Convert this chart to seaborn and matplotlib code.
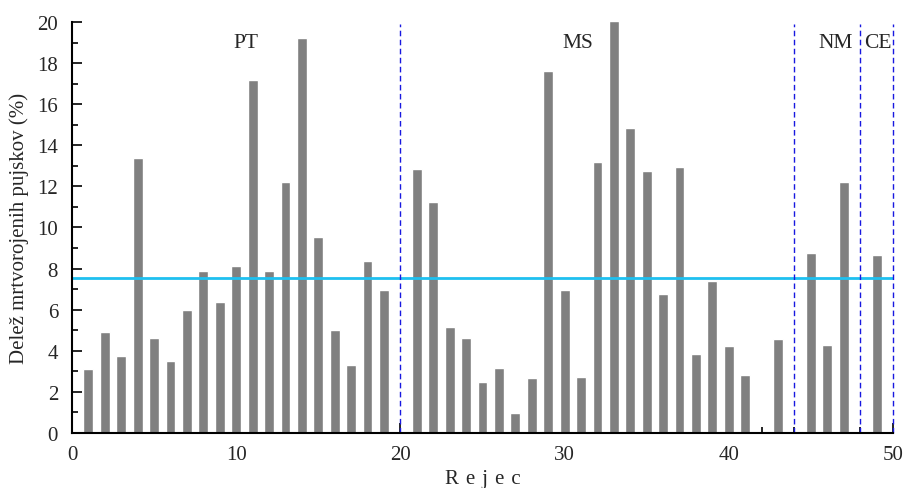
import matplotlib
matplotlib.use("Agg")
import matplotlib.pyplot as plt
import seaborn as sns
import pandas as pd
from matplotlib.ticker import MultipleLocator

# Data
rejec = [1, 2, 3, 4, 5, 6, 7, 8, 9, 10, 11, 12, 13, 14, 15, 16, 17, 18, 19,
         21, 22, 23, 24, 25, 26, 27, 28, 29, 30, 31, 32, 33, 34, 35, 36, 37, 38,
         39, 40, 41, 43, 45, 46, 47, 49]
delez = [3.1, 4.92, 3.77, 13.36, 4.61, 3.52, 6.0, 7.9, 6.38, 8.15, 17.2, 7.9,
         12.22, 19.2, 9.55, 5.03, 3.29, 8.39, 6.95,
         12.83, 11.22, 5.18, 4.61, 2.5, 3.17, 0.99, 2.68, 17.61, 6.98, 2.74,
         13.21, 20.03, 14.82, 12.76, 6.74, 12.92, 3.86, 7.42, 4.24, 2.81, 4.58,
         8.77, 4.3, 12.19, 8.64]
mean_value = 7.52
group_bounds = [20, 44, 48, 50]
group_labels = ["PT", "MS", "NM", "CE"]
group_label_x = [10.6, 30.8, 46.5, 49.05]
group_label_y = 19.0

df = pd.DataFrame({"Rejec": rejec, "Delez": delez})

sns.set_style("ticks")
plt.rcParams["font.family"] = ["Liberation Serif", "DejaVu Serif"]

fig = plt.figure(figsize=(9.09, 4.89), dpi=100)
ax = fig.add_axes([0.0792, 0.1125, 0.9032, 0.8405])

sns.barplot(data=df, x="Rejec", y="Delez", native_scale=True, width=0.6,
            color="#808080", saturation=1, ax=ax)
for p in ax.patches:
    p.set_zorder(2)

ax.axhline(mean_value, color="#1EC0F0", lw=2, zorder=3)
for xb in group_bounds:
    ax.axvline(xb, ymin=0, ymax=0.995, color="#1818E0", lw=1,
               dashes=(4, 2.5), zorder=3, clip_on=False)
for lab, lx in zip(group_labels, group_label_x):
    ax.text(lx, group_label_y, lab, ha="center", va="center", fontsize=15.5)

ax.set_xlim(0, 50)
ax.set_ylim(0, 20)
ax.xaxis.set_major_locator(MultipleLocator(10))
ax.xaxis.set_minor_locator(MultipleLocator(2))
ax.yaxis.set_major_locator(MultipleLocator(2))
ax.yaxis.set_minor_locator(MultipleLocator(1))
ax.tick_params(axis="both", which="major", direction="in", length=7,
               width=1.2, labelsize=15, color="black")
ax.tick_params(axis="x", which="major", pad=9)
ax.tick_params(axis="y", which="major", pad=10)
ax.tick_params(axis="both", which="minor", direction="in", length=4,
               width=1.2, color="black")
ax.xaxis.set_zorder(0.5)
ax.yaxis.set_zorder(0.5)
for s in ["top", "right"]:
    ax.spines[s].set_visible(False)
for s in ["left", "bottom"]:
    ax.spines[s].set_linewidth(1.5)
    ax.spines[s].set_color("black")
    ax.spines[s].set_zorder(4)

ax.set_xlabel("R\u2004e\u2004j\u2004e\u2004c", fontsize=15, labelpad=3)
ax.set_ylabel("Delež mrtvorojenih pujskov (%)", fontsize=15, labelpad=6)

fig.savefig("out.png", dpi=100)
